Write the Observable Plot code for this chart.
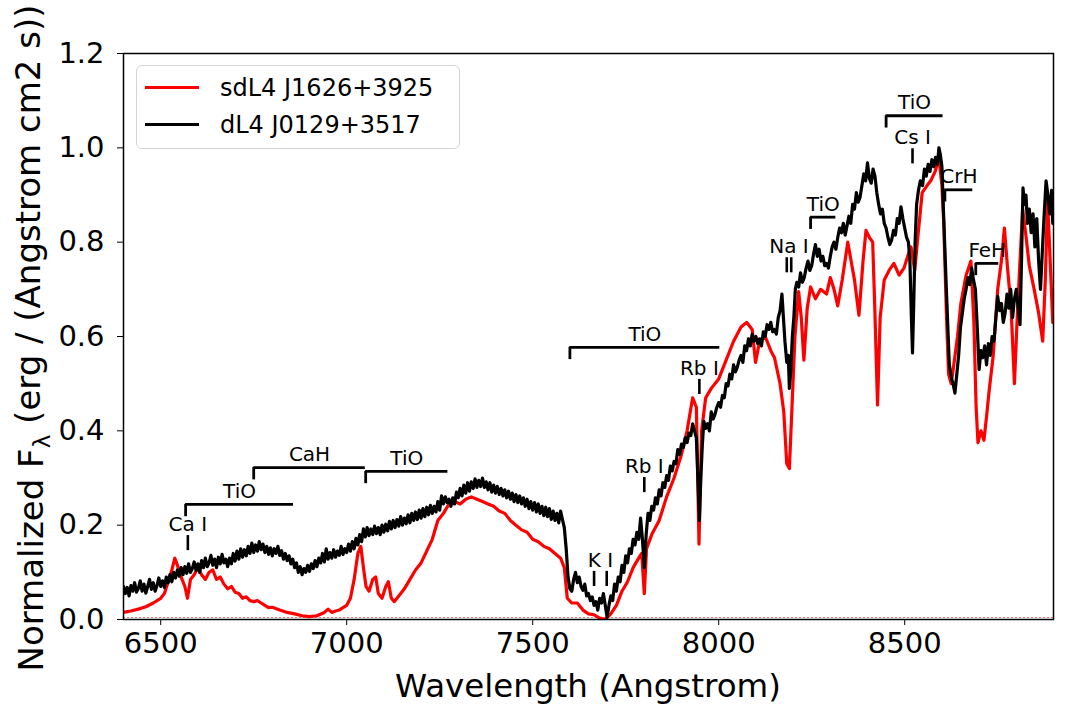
<!DOCTYPE html>
<html>
<head>
<meta charset="utf-8">
<script src="https://cdn.jsdelivr.net/npm/d3@7"></script>
<script src="https://cdn.jsdelivr.net/npm/@observablehq/plot@0.6"></script>
<style>
  body { margin: 0; background: #fff; font-family: "DejaVu Sans", sans-serif; }
  #chart { position: relative; width: 1076px; height: 720px; }
  .legend {
    position: absolute; left: 136px; top: 65px; width: 324px; height: 84px;
    box-sizing: border-box; border: 1.5px solid #d4d4d4; border-radius: 6px;
    background: rgba(255,255,255,0.85); padding: 3px 0 0 8px;
  }
  .legend .row { display: flex; align-items: center; height: 37px; font-size: 24px; color: #000; }
  .legend .swatch { display: inline-block; width: 54px; height: 3px; margin-right: 21px; }
</style>
</head>
<body>
<div id="chart"></div>
<script>
// Spectra: [wavelength (Angstrom), normalized flux]
const seriesNames = ["sdL4 J1626+3925", "dL4 J0129+3517"];
const seriesColors = ["#ff0000", "#000000"];

const redSpectrum = [
  [6400,.015],[6420,.018],[6440,.022],[6460,.027],[6480,.035],[6500,.045],[6510,.055],[6520,.080],[6530,.105],[6538,.130],
  [6545,.115],[6555,.090],[6565,.070],[6572,.045],[6580,.085],[6590,.095],[6600,.110],[6610,.095],[6620,.085],[6630,.100],
  [6640,.105],[6650,.085],[6660,.090],[6670,.075],[6680,.065],[6690,.070],[6700,.058],[6710,.055],[6720,.045],[6730,.048],
  [6740,.040],[6750,.038],[6760,.040],[6770,.035],[6780,.030],[6790,.025],[6800,.026],[6820,.020],[6840,.015],[6860,.012],
  [6880,.008],[6900,.006],[6920,.008],[6940,.015],[6950,.022],[6960,.015],[6970,.018],[6980,.020],[6990,.025],[7000,.030],
  [7010,.045],[7020,.085],[7030,.140],[7038,.155],[7045,.110],[7052,.070],[7060,.060],[7070,.085],[7078,.090],[7085,.055],
  [7095,.045],[7105,.070],[7112,.080],[7120,.045],[7128,.038],[7140,.050],[7155,.065],[7170,.085],[7185,.105],[7200,.120],
  [7215,.145],[7230,.170],[7245,.210],[7260,.225],[7275,.245],[7290,.250],[7305,.245],[7320,.255],[7335,.260],[7350,.255],
  [7365,.250],[7380,.245],[7395,.240],[7410,.230],[7425,.225],[7440,.210],[7455,.200],[7470,.190],[7485,.185],[7500,.170],
  [7515,.165],[7530,.155],[7545,.150],[7560,.140],[7575,.130],[7585,.110],[7593,.045],[7605,.035],[7620,.035],[7635,.020],
  [7650,.012],[7665,.010],[7680,.003],[7695,.000],[7710,.012],[7725,.030],[7740,.060],[7755,.080],[7770,.110],[7785,.130],
  [7793,.140],[7800,.055],[7806,.150],[7820,.180],[7840,.210],[7860,.260],[7880,.300],[7900,.350],[7915,.400],[7930,.470],
  [7940,.450],[7947,.160],[7954,.400],[7965,.470],[7980,.490],[8000,.510],[8020,.550],[8040,.590],[8060,.620],[8075,.630],
  [8090,.615],[8099,.545],[8110,.590],[8125,.600],[8140,.570],[8150,.555],[8165,.500],[8175,.440],[8183,.330],[8190,.320],
  [8197,.450],[8205,.600],[8215,.695],[8222,.640],[8229,.550],[8238,.660],[8247,.705],[8260,.680],[8274,.700],[8290,.690],
  [8300,.725],[8310,.700],[8320,.665],[8332,.720],[8347,.800],[8356,.760],[8365,.720],[8377,.645],[8388,.760],[8396,.825],
  [8405,.810],[8414,.800],[8420,.650],[8427,.455],[8434,.640],[8445,.720],[8458,.740],[8471,.755],[8485,.730],[8498,.745],
  [8508,.770],[8517,.790],[8527,.740],[8534,.800],[8547,.905],[8560,.920],[8570,.930],[8582,.950],[8592,.980],[8600,.920],
  [8605,.840],[8612,.650],[8618,.520],[8625,.500],[8632,.540],[8642,.600],[8651,.670],[8665,.730],[8678,.760],[8686,.630],
  [8692,.450],[8697,.375],[8705,.400],[8713,.380],[8720,.430],[8727,.485],[8738,.560],[8750,.700],[8760,.760],[8768,.830],
  [8777,.740],[8786,.660],[8795,.500],[8803,.650],[8810,.760],[8817,.870],[8825,.820],[8835,.750],[8848,.700],[8860,.650],
  [8871,.590],[8878,.720],[8884,.890],[8890,.780],[8898,.630]
];

const blackSpectrum = [
  [6400,.070],[6405,.055],[6410,.068],[6415,.050],[6420,.072],[6425,.060],[6430,.078],[6435,.058],[6440,.066],[6445,.082],
  [6450,.060],[6455,.075],[6460,.056],[6465,.070],[6470,.085],[6475,.064],[6480,.078],[6485,.060],[6490,.072],[6495,.088],
  [6500,.070],[6505,.082],[6510,.068],[6515,.090],[6520,.078],[6525,.095],[6530,.080],[6535,.100],[6540,.088],[6545,.105],
  [6550,.092],[6555,.110],[6560,.095],[6565,.112],[6570,.098],[6575,.118],[6580,.100],[6585,.108],[6590,.122],[6595,.104],
  [6600,.118],[6605,.100],[6610,.125],[6615,.110],[6620,.130],[6625,.112],[6630,.120],[6635,.136],[6640,.115],[6645,.128],
  [6650,.110],[6655,.132],[6660,.118],[6665,.138],[6670,.120],[6675,.128],[6680,.112],[6685,.130],[6690,.118],[6695,.140],
  [6700,.124],[6705,.145],[6710,.128],[6715,.150],[6720,.132],[6725,.148],[6730,.135],[6735,.155],[6740,.140],[6745,.162],
  [6750,.142],[6755,.158],[6760,.145],[6765,.165],[6770,.148],[6775,.160],[6780,.142],[6785,.155],[6790,.138],[6795,.152],
  [6800,.135],[6805,.150],[6810,.140],[6815,.155],[6820,.136],[6825,.146],[6830,.128],[6835,.140],[6840,.125],[6845,.135],
  [6850,.118],[6855,.128],[6860,.110],[6865,.120],[6870,.100],[6875,.112],[6880,.095],[6885,.108],[6890,.100],[6895,.115],
  [6900,.102],[6905,.118],[6910,.108],[6915,.125],[6920,.112],[6925,.130],[6930,.120],[6935,.140],[6940,.122],[6945,.150],
  [6950,.128],[6955,.142],[6960,.130],[6965,.148],[6970,.132],[6975,.145],[6980,.136],[6985,.155],[6990,.138],[6995,.150],
  [7000,.142],[7005,.160],[7010,.145],[7015,.165],[7020,.150],[7025,.172],[7030,.158],[7035,.180],[7040,.165],[7045,.192],
  [7050,.175],[7055,.195],[7060,.178],[7065,.192],[7070,.180],[7075,.198],[7080,.182],[7085,.195],[7090,.180],[7095,.200],
  [7100,.185],[7105,.202],[7110,.188],[7115,.208],[7120,.192],[7125,.210],[7130,.195],[7135,.212],[7140,.198],[7145,.218],
  [7150,.200],[7155,.215],[7160,.203],[7165,.222],[7170,.205],[7175,.225],[7180,.210],[7185,.228],[7190,.212],[7195,.232],
  [7200,.215],[7205,.235],[7210,.218],[7215,.238],[7220,.222],[7225,.242],[7230,.225],[7235,.240],[7240,.228],[7245,.250],
  [7250,.232],[7255,.262],[7260,.245],[7265,.260],[7270,.248],[7275,.255],[7280,.240],[7285,.258],[7290,.245],[7295,.270],
  [7300,.258],[7305,.278],[7310,.262],[7315,.285],[7320,.268],[7325,.290],[7330,.272],[7335,.292],[7340,.278],[7345,.298],
  [7350,.280],[7355,.295],[7360,.282],[7365,.300],[7370,.280],[7375,.292],[7380,.275],[7385,.290],[7390,.270],[7395,.285],
  [7400,.268],[7405,.282],[7410,.265],[7415,.278],[7420,.262],[7425,.275],[7430,.258],[7435,.272],[7440,.255],[7445,.268],
  [7450,.250],[7455,.265],[7460,.248],[7465,.262],[7470,.245],[7475,.258],[7480,.240],[7485,.255],[7490,.235],[7495,.250],
  [7500,.232],[7505,.248],[7510,.228],[7515,.245],[7520,.225],[7525,.240],[7530,.220],[7535,.238],[7540,.218],[7545,.235],
  [7550,.212],[7555,.230],[7560,.210],[7565,.225],[7570,.205],[7575,.230],[7580,.212],[7585,.195],[7590,.150],[7595,.090],
  [7600,.065],[7605,.060],[7610,.085],[7615,.100],[7620,.078],[7625,.090],[7630,.070],[7635,.062],[7640,.075],[7645,.050],
  [7650,.055],[7655,.040],[7660,.048],[7665,.030],[7670,.038],[7675,.020],[7680,.045],[7685,.035],[7690,.055],[7695,.030],
  [7700,.005],[7705,.030],[7710,.050],[7715,.040],[7720,.075],[7725,.060],[7730,.090],[7735,.080],[7740,.115],[7745,.100],
  [7750,.135],[7755,.120],[7760,.150],[7765,.140],[7770,.170],[7775,.158],[7780,.185],[7785,.170],[7790,.215],[7795,.170],
  [7800,.110],[7805,.180],[7810,.225],[7815,.210],[7820,.240],[7825,.232],[7830,.258],[7835,.245],[7840,.275],[7845,.262],
  [7850,.290],[7855,.280],[7860,.305],[7865,.295],[7870,.325],[7875,.315],[7880,.335],[7885,.330],[7890,.360],[7895,.350],
  [7900,.372],[7905,.365],[7910,.385],[7915,.375],[7920,.395],[7925,.390],[7930,.415],[7935,.400],[7940,.385],[7944,.300],
  [7948,.210],[7952,.300],[7956,.370],[7960,.420],[7965,.405],[7970,.415],[7975,.400],[7980,.440],[7985,.425],[7990,.435],
  [7995,.450],[8000,.460],[8005,.450],[8010,.475],[8015,.470],[8020,.500],[8025,.495],[8030,.520],[8035,.510],[8040,.540],
  [8045,.525],[8050,.535],[8055,.550],[8060,.560],[8065,.545],[8070,.580],[8075,.570],[8080,.595],[8085,.580],[8090,.605],
  [8095,.590],[8100,.600],[8105,.585],[8110,.595],[8115,.580],[8120,.610],[8125,.600],[8130,.625],[8135,.615],[8140,.630],
  [8145,.610],[8150,.615],[8155,.605],[8160,.640],[8165,.655],[8170,.690],[8174,.640],[8178,.590],[8183,.545],[8187,.560],
  [8190,.490],[8194,.530],[8198,.600],[8202,.640],[8206,.700],[8210,.715],[8215,.705],[8220,.735],[8225,.715],[8230,.725],
  [8235,.745],[8240,.760],[8245,.740],[8250,.750],[8255,.775],[8260,.795],[8265,.770],[8270,.785],[8275,.760],[8280,.770],
  [8285,.750],[8290,.755],[8295,.745],[8300,.770],[8305,.790],[8310,.800],[8315,.785],[8320,.810],[8325,.830],[8330,.820],
  [8335,.840],[8340,.815],[8345,.835],[8350,.855],[8355,.840],[8360,.880],[8365,.870],[8370,.905],[8375,.885],[8380,.895],
  [8385,.920],[8390,.945],[8395,.930],[8400,.968],[8405,.935],[8410,.925],[8415,.955],[8420,.940],[8425,.905],[8430,.880],
  [8435,.860],[8440,.870],[8445,.840],[8450,.830],[8455,.810],[8460,.795],[8465,.805],[8470,.825],[8475,.815],[8480,.850],
  [8485,.840],[8490,.875],[8495,.850],[8500,.830],[8505,.810],[8510,.800],[8514,.760],[8518,.640],[8521,.565],[8524,.660],
  [8528,.800],[8532,.880],[8537,.910],[8542,.930],[8548,.920],[8553,.955],[8558,.940],[8563,.965],[8568,.950],[8573,.975],
  [8578,.960],[8583,.980],[8588,.965],[8592,1.000],[8596,.985],[8600,.960],[8605,.850],[8612,.700],[8620,.540],[8626,.510],
  [8630,.500],[8635,.480],[8640,.520],[8645,.560],[8650,.620],[8655,.650],[8660,.680],[8665,.700],[8670,.725],[8675,.710],
  [8680,.745],[8685,.720],[8690,.700],[8695,.620],[8700,.530],[8705,.570],[8710,.555],[8715,.580],[8720,.540],[8725,.585],
  [8730,.560],[8735,.600],[8740,.590],[8745,.640],[8750,.685],[8755,.655],[8760,.670],[8765,.630],[8770,.650],[8775,.690],
  [8780,.660],[8785,.700],[8790,.640],[8795,.680],[8800,.700],[8805,.660],[8810,.625],[8814,.760],[8818,.915],[8822,.880],
  [8826,.900],[8830,.840],[8835,.870],[8840,.820],[8845,.860],[8850,.790],[8855,.850],[8860,.760],[8865,.700],[8870,.780],
  [8875,.860],[8880,.930],[8885,.900],[8890,.860],[8895,.910],[8898,.840]
];

// Molecular bands: name, wavelength range and bracket level
const bandNames = ["TiO", "CaH", "TiO", "TiO", "TiO", "TiO", "CrH", "FeH"];
const bandStart = [6567, 6750, 7051, 7600, 8247, 8450, 8608, 8691];
const bandEnd   = [6857, 7050, 7272, 8003, 8315, 8603, 8683, 8753];
const bandLevel = [0.244, 0.322, 0.314, 0.577, 0.853, 1.068, 0.911, 0.755];

// Atomic lines: name, rest wavelengths and marker level
const lineNames = ["Ca I", "K I", "Rb I", "Rb I", "Na I", "Cs I"];
const lineWaves = [[6573], [7665, 7699], [7800], [7948], [8183, 8195], [8521]];
const lineLevel = [0.178, 0.102, 0.301, 0.509, 0.767, 0.998];

const xTicks = [6500, 7000, 7500, 8000, 8500];
const yTicks = [0, 0.2, 0.4, 0.6, 0.8, 1.0, 1.2];

const red = redSpectrum.map(([w, f]) => ({w, f}));
const black = blackSpectrum.map(([w, f]) => ({w, f}));

const bands = bandNames.map((name, i) => ({
  name, x1: bandStart[i], x2: bandEnd[i], y: bandLevel[i],
  mid: (bandStart[i] + bandEnd[i]) / 2
}));
const bandDrop = 0.026;

const lines = lineNames.map((name, i) => ({name, waves: lineWaves[i], y: lineLevel[i], mid: d3.mean(lineWaves[i])}));
const lineTicks = lines.flatMap(l => l.waves.map(w => ({w, y: l.y})));
const lineLen = 0.032;

const chart = Plot.plot({
  width: 1076,
  height: 720,
  marginLeft: 123,
  marginRight: 23,
  marginTop: 53,
  marginBottom: 101,
  style: {fontFamily: "DejaVu Sans, sans-serif", fontSize: "29px", color: "#000", background: "#fff"},
  x: {domain: [6400, 8900]},
  y: {domain: [0, 1.2]},
  marks: [
    Plot.ruleY([0], {stroke: "#ff0000", strokeWidth: 1, strokeDasharray: "2,2", strokeOpacity: 0.55, dy: -2}),
    Plot.line(red, {x: "w", y: "f", stroke: seriesColors[0], strokeWidth: 3.2, clip: true}),
    Plot.line(black, {x: "w", y: "f", stroke: seriesColors[1], strokeWidth: 3.2, clip: true}),
    // band brackets
    Plot.ruleY(bands, {x1: "x1", x2: "x2", y: "y", stroke: "#000", strokeWidth: 2.8}),
    Plot.ruleX(bands, {x: "x1", y1: "y", y2: d => d.y - bandDrop, stroke: "#000", strokeWidth: 2.8}),
    Plot.text(bands, {x: "mid", y: "y", text: "name", dy: -13, fontSize: 20, fill: "#000"}),
    // atomic line markers
    Plot.ruleX(lineTicks, {x: "w", y1: "y", y2: d => d.y - lineLen, stroke: "#000", strokeWidth: 2.6}),
    Plot.text(lines, {x: "mid", y: "y", text: "name", dy: -11, fontSize: 20, fill: "#000"}),
    Plot.frame({stroke: "#000", strokeWidth: 1.5}),
    Plot.axisX({ticks: xTicks, tickSize: 6, tickPadding: 7, tickFormat: d => String(d), label: null, fontSize: 29}),
    Plot.axisY({ticks: yTicks, tickSize: 6, tickPadding: 13, tickFormat: d3.format(".1f"), label: null, fontSize: 29})
  ]
});

const holder = document.getElementById("chart");
holder.appendChild(chart);

// axis titles
const svg = d3.select(chart);
svg.append("text")
  .attr("x", 588).attr("y", 697)
  .attr("text-anchor", "middle")
  .style("font-size", "32.5px").attr("fill", "#000")
  .text("Wavelength (Angstrom)");

const yl = svg.append("text")
  .attr("transform", "translate(43,338) rotate(-90)")
  .attr("text-anchor", "middle")
  .style("font-size", "34px").attr("fill", "#000");
yl.append("tspan").text("Normalized F");
yl.append("tspan").attr("dy", "0.3em").style("font-size", "23px").text("λ");
yl.append("tspan").attr("dy", "-0.3em").text(" (erg / (Angstrom cm2 s))");

// legend
const legend = d3.select(holder).append("div").attr("class", "legend");
seriesNames.forEach((name, i) => {
  const row = legend.append("div").attr("class", "row");
  row.append("span").attr("class", "swatch").style("background", seriesColors[i]);
  row.append("span").text(name);
});
</script>
</body>
</html>
